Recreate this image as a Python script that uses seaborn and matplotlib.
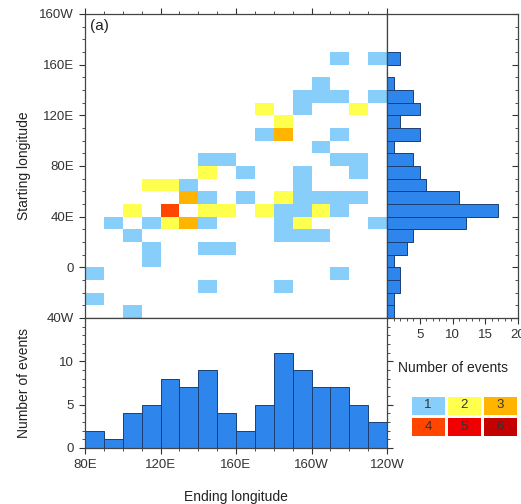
import numpy as np
import pandas as pd
import matplotlib
matplotlib.use("Agg")
import matplotlib.pyplot as plt
from matplotlib.colors import ListedColormap
from matplotlib.ticker import MultipleLocator
import seaborn as sns

# events binned in 10-degree boxes, longitudes in degrees east (bin centres)
end_lon = [215, 235,
           205,
           195, 205, 215, 235,
           175, 195, 225,
           185,
           175, 185, 215,
           205,
           145, 155, 215, 225,
           145, 165, 195, 225,
           115, 125, 135, 195,
           135, 145, 165, 185, 195, 205, 215, 225,
           105, 125, 145, 155, 175, 185, 195, 205, 215,
           95, 115, 125, 135, 145, 185, 195, 235,
           105, 185, 195, 205,
           115, 145, 155,
           115,
           85, 215,
           145, 185,
           85,
           105]
start_lon = [165, 165,
             145,
             135, 135, 135, 135,
             125, 125, 125,
             115,
             105, 105, 105,
             95,
             85, 85, 85, 85,
             75, 75, 75, 75,
             65, 65, 65, 65,
             55, 55, 55, 55, 55, 55, 55, 55,
             45, 45, 45, 45, 45, 45, 45, 45, 45,
             35, 35, 35, 35, 35, 35, 35, 35,
             25, 25, 25, 25,
             15, 15, 15,
             5,
             -5, -5,
             -15, -15,
             -25,
             -35]
n_events = [1, 1,
            1,
            1, 1, 1, 1,
            2, 1, 2,
            2,
            1, 3, 1,
            1,
            1, 1, 1, 1,
            2, 1, 1, 1,
            2, 2, 1, 1,
            3, 1, 1, 2, 1, 1, 1, 1,
            2, 4, 2, 2, 2, 1, 1, 2, 1,
            1, 1, 2, 3, 1, 1, 2, 1,
            1, 1, 1, 1,
            1, 1, 1,
            1,
            1, 1,
            1, 1,
            1,
            1]

level_colors = ["#87CEFA", "#FFFF4D", "#FFB400", "#FF4500", "#F00000", "#C40000"]
legend_levels = [[1, 2, 3], [4, 5, 6]]

events = pd.DataFrame({"end": end_lon, "start": start_lon, "n": n_events})

x_edges = np.arange(80, 241, 10)
y_edges = np.arange(-40, 201, 10)

bar_color = "#2E86EC"
edge_color = "#1B3F73"
spine_color = "#444444"


def lon_label(v):
    v = int(round(v))
    if v == 0 or v == 180:
        return str(v)
    if v < 0:
        return f"{-v}W"
    if v > 180:
        return f"{360 - v}W"
    return f"{v}E"


sns.set_style("ticks")
plt.rcParams["font.family"] = ["Liberation Sans", "DejaVu Sans"]
plt.rcParams["text.color"] = "#222222"
plt.rcParams["axes.labelcolor"] = "#222222"
plt.rcParams["xtick.color"] = "#333333"
plt.rcParams["ytick.color"] = "#333333"

cmap = ListedColormap(level_colors)

fig = plt.figure(figsize=(5.21, 5.04), dpi=100)
ax_main = fig.add_axes([85 / 521, 1 - 318 / 504, 302 / 521, 304 / 504])
ax_right = fig.add_axes([387 / 521, 1 - 318 / 504, 131 / 521, 304 / 504])
ax_bot = fig.add_axes([85 / 521, 1 - 448 / 504, 302 / 521, 130 / 504])
ax_leg = fig.add_axes([410 / 521, 1 - 437 / 504, 108 / 521, 42 / 504])

# 2D histogram of start vs end longitude
sns.histplot(
    data=events, x="end", y="start", weights="n",
    bins=(x_edges, y_edges), cmap=cmap, vmin=0.5, vmax=6.5,
    ax=ax_main
)
ax_main.set_xlim(80, 240)
ax_main.set_ylim(-40, 200)
ax_main.set_xlabel("")
ax_main.set_ylabel("Starting longitude", fontsize=10)
ax_main.yaxis.set_label_coords(-0.18, 0.5)
ax_main.set_yticks(np.arange(-40, 201, 40))
ax_main.set_yticklabels([lon_label(v) for v in np.arange(-40, 201, 40)], fontsize=9.5)
ax_main.set_xticks(np.arange(80, 241, 40))
ax_main.xaxis.set_minor_locator(MultipleLocator(10))
ax_main.yaxis.set_minor_locator(MultipleLocator(10))
ax_main.tick_params(axis="x", which="both", bottom=False, top=True,
                    labelbottom=False, labeltop=False)
ax_main.text(0.015, 0.985, "(a)", transform=ax_main.transAxes,
             ha="left", va="top", fontsize=11)

# marginal histogram of starting longitude
sns.histplot(
    data=events, y="start", weights="n", binwidth=10, binrange=(-40, 200),
    color=bar_color, edgecolor=edge_color, linewidth=0.7, alpha=1,
    ax=ax_right
)
ax_right.set_xlim(0, 20)
ax_right.set_ylim(-40, 200)
ax_right.set_ylabel("")
ax_right.set_xlabel("Number of events", fontsize=10)
ax_right.xaxis.set_label_coords(0.5, -0.14)
ax_right.set_xticks([5, 10, 15, 20])
ax_right.set_xticklabels(["5", "10", "15", "20"], fontsize=9.5)
ax_right.xaxis.set_minor_locator(MultipleLocator(1))
ax_right.yaxis.set_minor_locator(MultipleLocator(10))
ax_right.set_yticks(np.arange(-40, 201, 40))
ax_right.tick_params(axis="y", which="both", left=False, right=True,
                     labelleft=False)

# marginal histogram of ending longitude
sns.histplot(
    data=events, x="end", weights="n", binwidth=10, binrange=(80, 240),
    color=bar_color, edgecolor=edge_color, linewidth=0.7, alpha=1,
    ax=ax_bot
)
ax_bot.set_xlim(80, 240)
ax_bot.set_ylim(0, 15)
ax_bot.set_xticks(np.arange(80, 241, 40))
ax_bot.set_xticklabels([lon_label(v) for v in np.arange(80, 241, 40)], fontsize=9.5)
ax_bot.set_yticks([0, 5, 10])
ax_bot.set_yticklabels(["0", "5", "10"], fontsize=9.5)
ax_bot.xaxis.set_minor_locator(MultipleLocator(10))
ax_bot.yaxis.set_minor_locator(MultipleLocator(1))
ax_bot.tick_params(axis="y", which="both", right=True)
ax_bot.set_xlabel("Ending longitude", fontsize=10)
ax_bot.xaxis.set_label_coords(0.5, -0.32)
ax_bot.set_ylabel("Number of events", fontsize=10)
ax_bot.yaxis.set_label_coords(-0.18, 0.5)

for ax in (ax_main, ax_right, ax_bot):
    ax.tick_params(which="major", direction="out", length=4.5, width=0.8)
    ax.tick_params(which="minor", direction="out", length=2.5, width=0.6)
    for s in ax.spines.values():
        s.set_visible(True)
        s.set_color(spine_color)
        s.set_linewidth(0.9)
    ax.grid(False)
ax_right.tick_params(axis="y", which="both", direction="in")

# colour key
sns.heatmap(
    pd.DataFrame(legend_levels), cmap=cmap, vmin=0.5, vmax=6.5,
    annot=True, fmt="d", cbar=False, linewidths=0.8, linecolor="white",
    xticklabels=False, yticklabels=False,
    annot_kws={"color": "#333333", "fontsize": 9.5},
    ax=ax_leg
)
ax_leg.tick_params(left=False, bottom=False)

fig.savefig("out.png", dpi=100)
